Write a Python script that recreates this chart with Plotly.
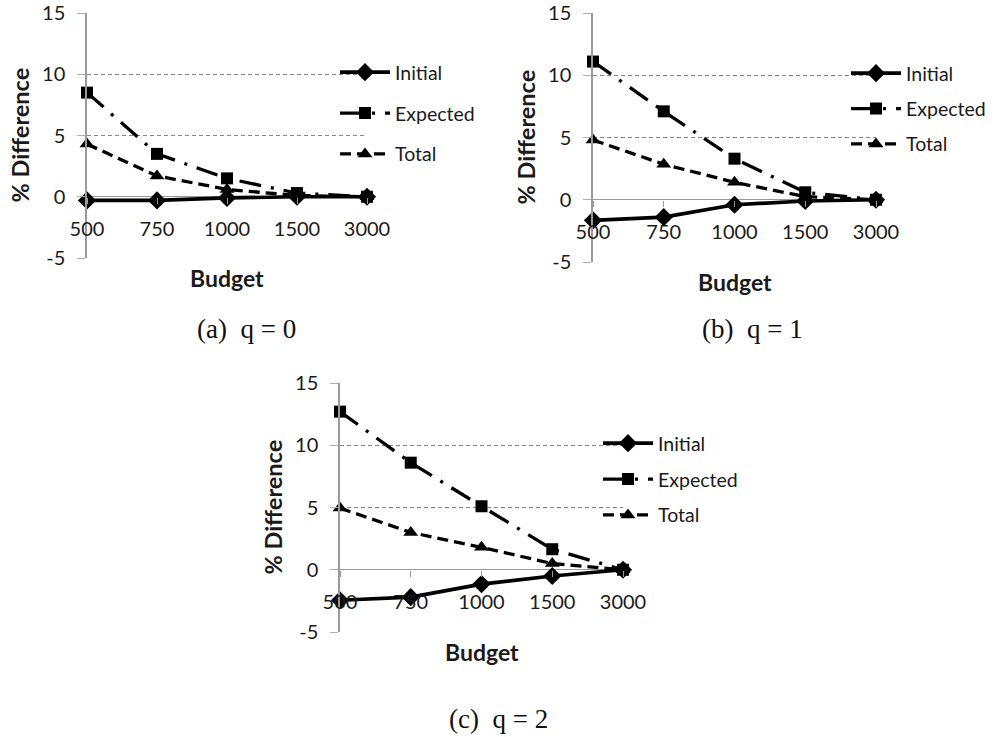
import plotly.graph_objects as go

# ---------------- data ----------------
budgets = ["500", "750", "1000", "1500", "3000"]
y_ticks = [-5, 0, 5, 10, 15]

a_initial = [-0.3, -0.3, -0.1, 0.0, 0.0]
a_expected = [8.5, 3.5, 1.5, 0.3, 0.0]
a_total = [4.3, 1.7, 0.6, 0.1, 0.0]

b_initial = [-1.65, -1.4, -0.4, -0.1, 0.0]
b_expected = [11.1, 7.1, 3.3, 0.6, 0.0]
b_total = [4.8, 2.85, 1.4, 0.25, 0.0]

c_initial = [-2.45, -2.2, -1.15, -0.5, 0.0]
c_expected = [12.7, 8.6, 5.1, 1.65, 0.0]
c_total = [4.95, 3.0, 1.8, 0.5, 0.0]

series_names = ["Initial", "Expected", "Total"]
captions = ["(a)  q = 0", "(b)  q = 1", "(c)  q = 2"]

# ---------------- layout geometry (screen pixels) ----------------
W, H = 995, 737
# (x_left, x_right, y_top(15), y_bottom(-5))
panels = [
    (87, 367, 13, 258),
    (593, 876, 13, 262),
    (340, 623, 383, 632),
]
caption_pos = [(246, 329), (752, 329), (498, 719)]
legend_left = [335, 846, 598]
legend_top = [53, 54, 424]
legend_gap = [12.5, 7, 7.5]

def px(x):
    return x / W

def py(y):
    return 1 - y / H

TXT = "#1a1a1a"
FONT = "Lato"
GRID = "#858585"

styles = {
    "Initial": dict(line=dict(color="black", width=3.7, dash="solid"),
                    marker=dict(symbol="diamond", size=14, color="black")),
    "Expected": dict(line=dict(color="black", width=3.3, dash="22px,10px,3px,10px"),
                     marker=dict(symbol="square", size=12, color="black")),
    "Total": dict(line=dict(color="black", width=3.3, dash="11px,6px"),
                  marker=dict(symbol="triangle-up", size=13, color="black")),
}

data_sets = [
    [a_initial, a_expected, a_total],
    [b_initial, b_expected, b_total],
    [c_initial, c_expected, c_total],
]

fig = go.Figure()
annotations = []
legend_keys = ["legend", "legend2", "legend3"]
layout_upd = {}

for i, (geom, sets) in enumerate(zip(panels, data_sets)):
    xl, xr, yt, yb = geom
    n = "" if i == 0 else str(i + 1)
    xa, ya = "x" + n, "y" + n
    for name, vals in zip(series_names, sets):
        st = styles[name]
        fig.add_trace(go.Scatter(
            x=list(range(len(budgets))), y=vals, name=name, mode="lines+markers",
            line=st["line"], marker=st["marker"], xaxis=xa, yaxis=ya,
            legend=legend_keys[i], legendgroup=name + n, cliponaxis=False,
            showlegend=True,
        ))
    zero_py = yb - (0 - (-5)) / 20 * (yb - yt)
    layout_upd["xaxis" + n] = dict(
        domain=[px(xl), px(xr)], range=[0, len(budgets) - 1],
        tickmode="array", tickvals=list(range(len(budgets))), ticktext=budgets,
        anchor="free", position=py(zero_py), showgrid=False, zeroline=False,
        showline=False, ticks="outside", ticklen=6, tickcolor="#9a9a9a",
        ticklabelstandoff=8, automargin=False,
        tickfont=dict(family=FONT, size=20, color=TXT),
    )
    layout_upd["yaxis" + n] = dict(
        domain=[py(yb), py(yt)], range=[-5, 15], anchor=xa,
        tickmode="array", tickvals=y_ticks, ticktext=[str(v) for v in y_ticks],
        showgrid=True, gridcolor=GRID, griddash="4px,3px", gridwidth=1,
        zeroline=True, zerolinecolor="#9a9a9a", zerolinewidth=1.3,
        showline=True, linecolor="#9a9a9a", linewidth=1.5,
        ticks="outside", ticklen=8, tickcolor="#b0b0b0", ticklabelstandoff=8,
        automargin=False,
        tickfont=dict(family=FONT, size=20, color=TXT),
    )
    layout_upd[legend_keys[i]] = dict(
        x=px(legend_left[i]), y=py(legend_top[i]), xanchor="left", yanchor="top",
        bgcolor="rgba(0,0,0,0)", borderwidth=0,
        font=dict(family=FONT, size=19.5, color=TXT),
        itemwidth=50, tracegroupgap=legend_gap[i],
    )
    # axis titles
    annotations.append(dict(
        text="<b>% Difference</b>", x=px(xl - 68), y=py((yt + yb) / 2),
        xref="paper", yref="paper", showarrow=False, textangle=-90,
        xanchor="center", yanchor="middle",
        font=dict(family=FONT, size=23.5, color=TXT),
    ))
    annotations.append(dict(
        text="<b>Budget</b>", x=px((xl + xr) / 2), y=py(yb + 20),
        xref="paper", yref="paper", showarrow=False,
        xanchor="center", yanchor="middle",
        font=dict(family=FONT, size=23, color=TXT),
    ))
    cx, cy = caption_pos[i]
    annotations.append(dict(
        text=captions[i], x=px(cx), y=py(cy), xref="paper", yref="paper",
        showarrow=False, xanchor="center", yanchor="middle",
        font=dict(family="Liberation Serif", size=27, color="#111111"),
    ))

fig.update_layout(
    width=W, height=H, margin=dict(l=0, r=0, t=0, b=0, autoexpand=False),
    paper_bgcolor="white", plot_bgcolor="rgba(0,0,0,0)",
    annotations=annotations, **layout_upd,
)

# remove the default 8px page margin so the figure fills the window exactly
fig.write_html("out.html", config={"displayModeBar": False},
               post_script="document.body.style.margin='0';")
